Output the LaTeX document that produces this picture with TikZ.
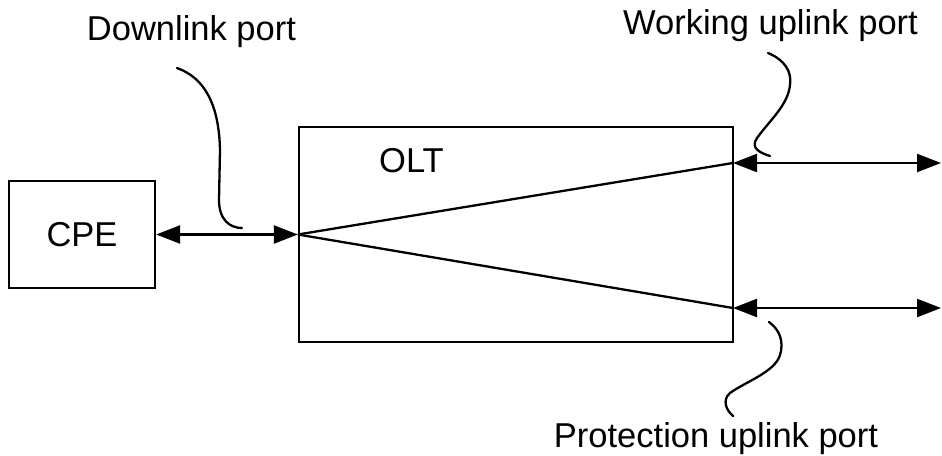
\documentclass[tikz,border=0pt]{standalone}
\usepackage{fontspec}
\setmainfont{Liberation Sans}
\usetikzlibrary{arrows.meta}
\begin{document}
\begin{tikzpicture}[x=1pt,y=-1pt,
  box/.style={draw=black,line width=2.3pt,rectangle,inner sep=0pt},
  lbl/.style={inner sep=0pt,anchor=base,font=\fontsize{34.5}{40}\selectfont},
  link/.style={line width=2.3pt,{Triangle[length=24pt,width=18pt]}-{Triangle[length=24pt,width=18pt]}},
  wire/.style={line width=2.3pt},
  squig/.style={line width=2.3pt,line cap=round}]
\useasboundingbox (0,0) rectangle (942,455);
\node[box,minimum width=146pt,minimum height=107pt] (cpe) at (82,234.5) {};
\node[box,minimum width=434pt,minimum height=215pt] (olt) at (516,234.5) {};
\node[lbl] (cpetxt) at (82,246) {CPE};
\node[lbl] (olttxt) at (411.5,172) {OLT};
\node[lbl] (dltxt) at (191.5,40) {Downlink port};
\node[lbl] (wktxt) at (770.5,34) {Working uplink port};
\node[lbl] (prtxt) at (716,447) {Protection uplink port};
\coordinate (w1) at (733,163);
\coordinate (w2) at (941,163);
\coordinate (p1) at (733,308);
\coordinate (p2) at (941,308);
\coordinate (ow) at (olt.west);
\draw[link] (cpe.east) -- (ow);
\draw[wire] (ow) -- (w1);
\draw[wire] (ow) -- (p1);
\draw[link] (w1) -- (w2);
\draw[link] (p1) -- (p2);
% squiggles
\coordinate (d0) at (177,68);
\coordinate (d1) at (242,228);
\draw[squig] (d0) .. controls (205,78) and (219,105) .. (220,150)
  -- (219,200) .. controls (219,220) and (230,228) .. (d1);
\coordinate (k0) at (768,53);
\coordinate (k1) at (770,156);
\draw[squig] (k0) .. controls (785,60) and (792,72) .. (790,85)
  .. controls (788,105) and (770,120) .. (757,138)
  .. controls (750,148) and (760,153) .. (k1);
\coordinate (q0) at (769,322);
\coordinate (q1) at (733,416);
\draw[squig] (q0) .. controls (780,330) and (784,342) .. (780,355)
  .. controls (775,372) and (745,382) .. (730,393)
  .. controls (722,400) and (726,410) .. (q1);
\end{tikzpicture}
\end{document}
